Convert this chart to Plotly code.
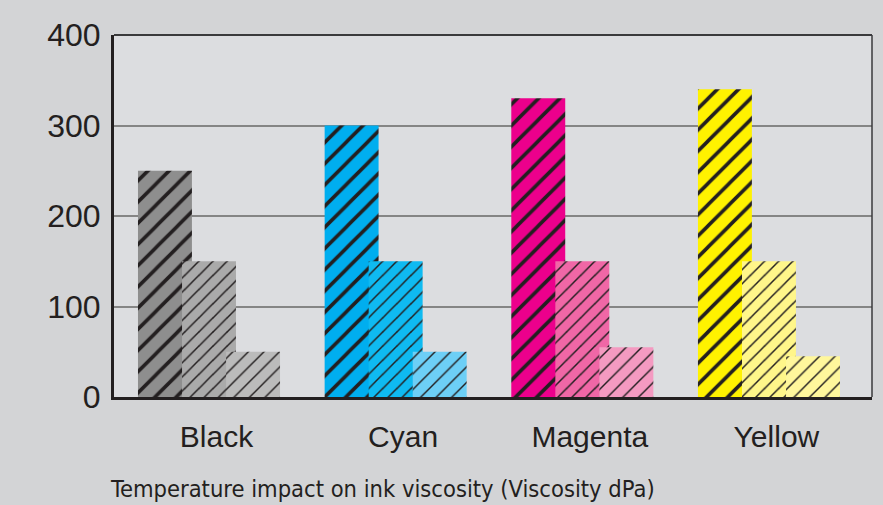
import plotly.graph_objects as go

categories = ["Black", "Cyan", "Magenta", "Yellow"]
series_names = ["Low temperature", "Medium temperature", "High temperature"]
values_1 = [250, 300, 330, 340]
values_2 = [150, 150, 150, 150]
values_3 = [50, 50, 55, 45]
colors_1 = ["#8e8e8e", "#00aeef", "#ec008c", "#fff200"]
colors_2 = ["#aaaaaa", "#0fbaf1", "#f067a6", "#fff68a"]
colors_3 = ["#bbbbbb", "#6dcff6", "#f49ac1", "#fff79c"]
y_ticks = [0, 100, 200, 300, 400]

series_values = [values_1, values_2, values_3]
series_colors = [colors_1, colors_2, colors_3]
pattern_sizes = [15, 10, 11]
pattern_solid = [0.24, 0.15, 0.13]
offsets = [-0.236, 0.0, 0.236]
bar_width = 0.289
stripe = "#231f20"

fig = go.Figure()
for k, cat in enumerate(categories):
    for i in range(3):
        fig.add_trace(go.Bar(
            x=[k + offsets[i]], y=[series_values[i][k]], width=bar_width,
            name=f"{cat} – {series_names[i]}",
            marker=dict(color=series_colors[i][k], line=dict(width=0),
                        pattern=dict(shape="/", fillmode="replace",
                                     bgcolor=series_colors[i][k],
                                     fgcolor=stripe, fgopacity=1,
                                     size=pattern_sizes[i], solidity=pattern_solid[i])),
            showlegend=False, hoverinfo="skip"))

fig.update_layout(
    width=883, height=505, barmode="overlay",
    margin=dict(l=114, r=11, t=35, b=108),
    paper_bgcolor="#d3d4d6", plot_bgcolor="#dcdde0",
    font=dict(family="Liberation Sans, Arial, sans-serif", color="#231f20"),
    xaxis=dict(range=[-0.509, 3.552], tickvals=[k + 0.04 for k in range(len(categories))],
               ticktext=categories, showgrid=False, zeroline=False,
               showline=True, linecolor="#231f20", linewidth=3,
               ticks="", ticklabelstandoff=11, tickfont=dict(size=30)),
    yaxis=dict(range=[0, 400], tickvals=y_ticks, showgrid=True, gridcolor="#858585",
               gridwidth=1.6, zeroline=False, showline=True, linecolor="#231f20",
               linewidth=3, ticks="", ticklabelstandoff=4, tickfont=dict(size=32)),
    shapes=[
        dict(type="line", xref="paper", yref="paper", x0=0, x1=1, y0=1, y1=1,
             line=dict(color="#3a3a3c", width=2)),
        dict(type="line", xref="paper", yref="paper", x0=1, x1=1, y0=0, y1=1,
             line=dict(color="#3a3a3c", width=1.5)),
    ],
    annotations=[dict(text="Temperature impact on ink viscosity (Viscosity dPa)",
                      xref="paper", yref="paper", x=-0.008, y=-0.21, xanchor="left",
                      yanchor="top", showarrow=False,
                      font=dict(family="Liberation Sans Narrow, DejaVu Sans Condensed, Arial Narrow, sans-serif",
                                size=23.5, color="#231f20"))],
)

fig.write_html("out.html")
